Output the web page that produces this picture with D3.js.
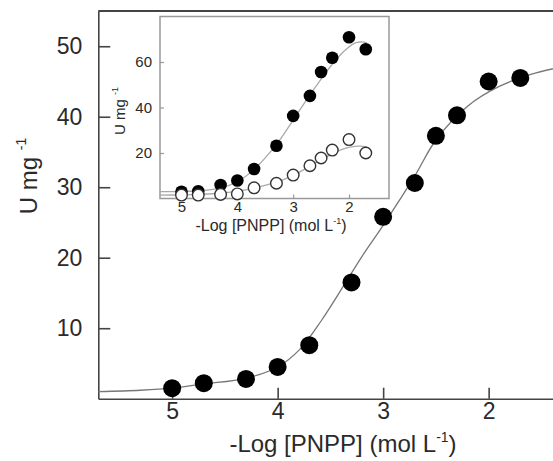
<!DOCTYPE html>
<html>
<head>
<meta charset="utf-8">
<title>U mg-1 vs -Log [PNPP]</title>
<script src="https://cdn.jsdelivr.net/npm/d3@7"></script>
<style>
  body { margin: 0; background: #fff; }
  svg { display: block; font-family: "Liberation Sans", Arial, sans-serif; }
  .axis path, .axis line { stroke: #444; stroke-width: 1.6px; }
  .axis text { fill: #2a2a2a; }
  .inset .axis path { display: none; }
  .inset .axis line { stroke: #999; stroke-width: 1.2px; }
</style>
</head>
<body>
<div class="container"></div>
<script>

// main panel: -log[PNPP] vs activity
var logConc  = [5, 4.7, 4.3, 4, 3.7, 3.3, 3, 2.7, 2.5, 2.3, 2, 1.7];
var activity = [1.5, 2.2, 2.8, 4.5, 7.6, 16.5, 25.8, 30.6, 37.3, 40.2, 45.0, 45.5];
// fitted curve
var fitX = [5.7, 5.3, 5.0, 4.7, 4.3, 4.0, 3.79, 3.58, 3.2, 3.0, 2.7, 2.5, 2.2, 1.9, 1.6, 1.3];
var fitY = [1.0, 1.2, 1.5, 2.1, 2.9, 4.5, 7.0, 11.2, 20.2, 24.6, 31.6, 36.7, 41.5, 44.3, 46.0, 47.1];
var xTicks = [5, 4, 3, 2];
var yTicks = [10, 20, 30, 40, 50];

// inset: two series
var insetFilled = [3.0, 3.2, 5.9, 7.9, 13.0, 23.2, 36.3, 45.1, 55.6, 61.9, 70.9, 65.6];
var insetOpen   = [1.5, 1.5, 1.8, 2.0, 4.7, 6.7, 10.3, 14.4, 17.8, 21.3, 25.9, 20.0];
var insetFitX      = [5.385, 5.0, 4.7, 4.3, 4.0, 3.7, 3.3, 3.0, 2.7, 2.5, 2.3, 2.1, 1.9, 1.8, 1.68];
var insetFitFilled = [3.0, 3.1, 3.4, 4.6, 7.4, 12.8, 23.8, 34.5, 45.5, 52.5, 59.0, 64.5, 68.3, 68.8, 68.5];
var insetFitOpen   = [1.5, 1.6, 1.8, 2.3, 3.2, 4.6, 7.2, 10.2, 14.2, 17.0, 19.6, 21.8, 22.9, 23.0, 22.7];
var insetYTicks = [20, 40, 60];

var svgWidth = 553, svgHeight = 461;

var svg = d3.select('.container')
  .append('svg')
  .attr('width', svgWidth)
  .attr('height', svgHeight);

var x = d3.scaleLinear().domain([5.7, 1.3]).range([98.3, 562.5]);
var y = d3.scaleLinear().domain([0, 55]).range([398.7, 11]);
var fmt = d3.format('d');

// top frame line
svg.append('line')
  .attr('x1', x(5.7)).attr('x2', x(1.3))
  .attr('y1', y(55)).attr('y2', y(55))
  .attr('stroke', '#444').attr('stroke-width', 1.8);

svg.append('g')
  .attr('class', 'axis')
  .attr('transform', `translate(0,${y(0)})`)
  .call(d3.axisBottom(x).tickValues(xTicks).tickFormat(fmt).tickSize(-11).tickSizeOuter(0).tickPadding(4))
  .selectAll('text').attr('font-size', 23);

svg.append('g')
  .attr('class', 'axis')
  .attr('transform', `translate(${x(5.7)},0)`)
  .call(d3.axisLeft(y).tickValues(yTicks).tickFormat(fmt).tickSize(-12).tickSizeOuter(0).tickPadding(16))
  .selectAll('text').attr('font-size', 23);

svg.selectAll('.axis').attr('font-family', null);

var fitLine = d3.line()
  .x(d => x(d[0]))
  .y(d => y(d[1]))
  .curve(d3.curveCatmullRom);

svg.append('path')
  .attr('d', fitLine(d3.zip(fitX, fitY)))
  .attr('fill', 'none')
  .attr('stroke', '#777')
  .attr('stroke-width', 1.3);

svg.append('g')
  .selectAll('circle')
  .data(d3.zip(logConc, activity))
  .enter().append('circle')
  .attr('cx', d => x(d[0]))
  .attr('cy', d => y(d[1]))
  .attr('r', 9)
  .attr('fill', '#000');

// axis titles
var xt = svg.append('text')
  .attr('x', 343).attr('y', 452)
  .attr('text-anchor', 'middle')
  .attr('font-size', 24)
  .attr('fill', '#2a2a2a');
xt.append('tspan').text('-Log [PNPP] (mol L');
xt.append('tspan').text('-1').attr('font-size', 14).attr('dy', -10);
xt.append('tspan').text(')').attr('dy', 10);

var yt = svg.append('text')
  .attr('transform', 'translate(37,176) rotate(-90)')
  .attr('text-anchor', 'middle')
  .attr('font-size', 24)
  .attr('fill', '#2a2a2a');
yt.append('tspan').text('U mg ');
yt.append('tspan').text('-1').attr('font-size', 14).attr('dy', -11);

// ---- inset ----
var xi = d3.scaleLinear().domain([5.385, 1.284]).range([160, 389]);
var yi = d3.scaleLinear().domain([0, 80]).range([198.5, 16.5]);

var inset = svg.append('g').attr('class', 'inset');

inset.append('rect')
  .attr('x', xi(5.385)).attr('y', yi(80))
  .attr('width', xi(1.284) - xi(5.385))
  .attr('height', yi(0) - yi(80))
  .attr('fill', '#fff')
  .attr('stroke', '#999')
  .attr('stroke-width', 1.5);

inset.append('g')
  .attr('class', 'axis')
  .attr('transform', `translate(0,${yi(0)})`)
  .call(d3.axisBottom(xi).tickValues(xTicks).tickFormat(fmt).tickSize(-4).tickSizeOuter(0).tickPadding(3))
  .selectAll('text').attr('font-size', 15);

inset.append('g')
  .attr('class', 'axis')
  .attr('transform', `translate(${xi(5.385)},0)`)
  .call(d3.axisLeft(yi).tickValues(insetYTicks).tickFormat(fmt).tickSize(-4).tickSizeOuter(0).tickPadding(8))
  .selectAll('text').attr('font-size', 15);

inset.selectAll('.axis').attr('font-family', null);

var insetLine = d3.line()
  .x(d => xi(d[0]))
  .y(d => yi(d[1]))
  .curve(d3.curveCatmullRom);

[insetFitFilled, insetFitOpen].forEach(function(s) {
  inset.append('path')
    .attr('d', insetLine(d3.zip(insetFitX, s)))
    .attr('fill', 'none')
    .attr('stroke', '#aaa')
    .attr('stroke-width', 1.3);
});

inset.append('g')
  .selectAll('circle')
  .data(d3.zip(logConc, insetFilled))
  .enter().append('circle')
  .attr('cx', d => xi(d[0]))
  .attr('cy', d => yi(d[1]))
  .attr('r', 6.3)
  .attr('fill', '#000');

inset.append('g')
  .selectAll('circle')
  .data(d3.zip(logConc, insetOpen))
  .enter().append('circle')
  .attr('cx', d => xi(d[0]))
  .attr('cy', d => yi(d[1]))
  .attr('r', 5.8)
  .attr('fill', '#fff')
  .attr('stroke', '#333')
  .attr('stroke-width', 1.4);

var xti = inset.append('text')
  .attr('x', 271).attr('y', 231)
  .attr('text-anchor', 'middle')
  .attr('font-size', 16)
  .attr('fill', '#2a2a2a');
xti.append('tspan').text('-Log [PNPP] (mol L');
xti.append('tspan').text('-1').attr('font-size', 9).attr('dy', -7);
xti.append('tspan').text(')').attr('dy', 7);

var yti = inset.append('text')
  .attr('transform', 'translate(125,111) rotate(-90)')
  .attr('text-anchor', 'middle')
  .attr('font-size', 15)
  .attr('fill', '#2a2a2a');
yti.append('tspan').text('U mg ');
yti.append('tspan').text('-1').attr('font-size', 9).attr('dy', -7);

</script>
</body>
</html>
